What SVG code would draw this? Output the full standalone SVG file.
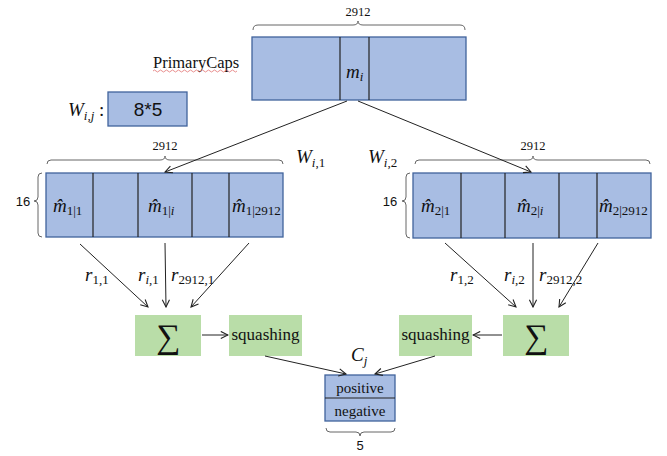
<svg xmlns="http://www.w3.org/2000/svg" width="667" height="456" viewBox="0 0 667 456">
<defs>
<style>
.blue{fill:#A8BDE3;stroke:#40639C;stroke-width:1.3}
.green{fill:#B9DDA8}
.div{stroke:#222;stroke-width:1.2}
.brace{fill:none;stroke:#666;stroke-width:1}
.con{stroke:#222;stroke-width:1;fill:none}
.serif{font-family:"Liberation Serif",serif;fill:#111}
.sans{font-family:"Liberation Sans",sans-serif;fill:#111}
.math{font-family:"Liberation Serif",serif;font-style:italic;fill:#111;font-size:19px}
.sub{font-style:normal;font-size:13px}
.subi{font-style:italic;font-size:13px}
</style>
<marker id="arr" viewBox="0 0 10 10" refX="9" refY="5" markerWidth="9" markerHeight="9" markerUnits="userSpaceOnUse" orient="auto">
<path d="M1,1 L9,5 L1,9" fill="none" stroke="#222" stroke-width="1.2"/>
</marker>
</defs>
<rect width="667" height="456" fill="#fff"/>

<g id="primarycaps">
<rect class="blue" x="252" y="37" width="214" height="63"/>
<line class="div" x1="340" y1="37" x2="340" y2="100"/>
<line class="div" x1="369" y1="37" x2="369" y2="100"/>
<text class="math" x="346" y="78">m<tspan class="subi" dy="3">i</tspan></text>
<path class="brace" d="M253,30 Q253,25 258,25 L353,25 Q358,25 358,21 Q358,25 363,25 L460,25 Q465,25 465,30"/>
<text class="serif" x="358" y="16" font-size="12.5" text-anchor="middle">2912</text>
<text class="serif" x="153" y="68" font-size="16.5">PrimaryCaps</text>
<path d="M153,71 q1.5,-2 3,0 t3,0 t3,0 t3,0 t3,0 t3,0 t3,0 t3,0 t3,0 t3,0 t3,0 t3,0 t3,0 t3,0 t3,0 t3,0 t3,0 t3,0 t3,0 t3,0 t3,0 t3,0 t3,0 t3,0 t3,0 t3,0 t3,0 t3,0" fill="none" stroke="#E06060" stroke-width="0.7"/>
</g>

<g id="weights">
<text class="math" x="68" y="116">W<tspan class="subi" dy="4">i,j</tspan><tspan dy="-4" style="font-style:normal"> :</tspan></text>
<rect class="blue" x="108" y="92" width="79" height="34"/>
<text class="sans" x="148" y="116" font-size="19" text-anchor="middle">8*5</text>
</g>

<g id="row1">
<rect class="blue" x="46" y="173" width="237" height="64"/>
<line class="div" x1="93" y1="173" x2="93" y2="237"/>
<line class="div" x1="138" y1="173" x2="138" y2="237"/>
<line class="div" x1="192" y1="173" x2="192" y2="237"/>
<line class="div" x1="229" y1="173" x2="229" y2="237"/>
<text class="math" x="53" y="212">m̂<tspan class="sub" dy="3">1|1</tspan></text>
<text class="math" x="148" y="212">m̂<tspan class="sub" dy="3">1|</tspan><tspan class="subi">i</tspan></text>
<text class="math" x="232" y="212">m̂<tspan class="sub" dy="3">1|2912</tspan></text>
<path class="brace" d="M47,164 Q47,160 51,160 L160,160 Q165,160 165,156 Q165,160 170,160 L279,160 Q283,160 283,164"/>
<text class="serif" x="165" y="150" font-size="12.5" text-anchor="middle">2912</text>
<path class="brace" d="M42,173 Q38,173 38,177 L38,197 Q38,201 34,201 Q38,201 38,205 L38,233 Q38,237 42,237"/>
<text class="sans" x="23" y="206" font-size="13" text-anchor="middle">16</text>
<text class="math" x="296" y="163">W<tspan class="subi" dy="4">i</tspan><tspan class="sub">,1</tspan></text>
</g>

<g id="row2">
<rect class="blue" x="413" y="173" width="238" height="65"/>
<line class="div" x1="461" y1="173" x2="461" y2="238"/>
<line class="div" x1="505" y1="173" x2="505" y2="238"/>
<line class="div" x1="559" y1="173" x2="559" y2="238"/>
<line class="div" x1="597" y1="173" x2="597" y2="238"/>
<text class="math" x="421" y="212">m̂<tspan class="sub" dy="3">2|1</tspan></text>
<text class="math" x="517" y="212">m̂<tspan class="sub" dy="3">2|</tspan><tspan class="subi">i</tspan></text>
<text class="math" x="599" y="212">m̂<tspan class="sub" dy="3">2|2912</tspan></text>
<path class="brace" d="M415,164 Q415,160 419,160 L528,160 Q533,160 533,156 Q533,160 538,160 L646,160 Q650,160 650,164"/>
<text class="serif" x="533" y="150" font-size="12.5" text-anchor="middle">2912</text>
<path class="brace" d="M410,173 Q406,173 406,177 L406,197 Q406,201 402,201 Q406,201 406,205 L406,234 Q406,238 410,238"/>
<text class="sans" x="390" y="206" font-size="13" text-anchor="middle">16</text>
<text class="math" x="368" y="163">W<tspan class="subi" dy="4">i</tspan><tspan class="sub">,2</tspan></text>
</g>

<g id="sum1">
<rect class="green" x="135" y="315" width="66" height="41"/>
<text class="serif" x="168" y="348" font-size="34" text-anchor="middle">∑</text>
</g>
<g id="squash1">
<rect class="green" x="229" y="315" width="73" height="41"/>
<text class="serif" x="265.5" y="340" font-size="17" text-anchor="middle">squashing</text>
</g>
<g id="sum2">
<rect class="green" x="503" y="315" width="66" height="41"/>
<text class="serif" x="536" y="348" font-size="34" text-anchor="middle">∑</text>
</g>
<g id="squash2">
<rect class="green" x="399" y="315" width="73" height="41"/>
<text class="serif" x="435.5" y="340" font-size="17" text-anchor="middle">squashing</text>
</g>

<g id="cj">
<text class="math" x="351" y="361">C<tspan class="subi" dy="4">j</tspan></text>
<rect class="blue" x="325" y="375" width="70" height="46"/>
<line class="div" x1="325" y1="398" x2="395" y2="398"/>
<text class="serif" x="360" y="393" font-size="15" text-anchor="middle">positive</text>
<text class="serif" x="360" y="416" font-size="15" text-anchor="middle">negative</text>
<path class="brace" d="M326,428 Q326,432 330,432 L356,432 Q360,432 360,436 Q360,432 364,432 L391,432 Q395,432 395,428"/>
<text class="sans" x="360" y="450" font-size="13" text-anchor="middle">5</text>
</g>

<g id="labels">
<text class="math" x="85" y="281">r<tspan class="sub" dy="3">1,1</tspan></text>
<text class="math" x="138" y="281">r<tspan class="subi" dy="3">i</tspan><tspan class="sub">,1</tspan></text>
<text class="math" x="171" y="281">r<tspan class="sub" dy="3">2912,1</tspan></text>
<text class="math" x="450" y="281">r<tspan class="sub" dy="3">1,2</tspan></text>
<text class="math" x="504" y="281">r<tspan class="subi" dy="3">i</tspan><tspan class="sub">,2</tspan></text>
<text class="math" x="539" y="281">r<tspan class="sub" dy="3">2912,2</tspan></text>
</g>

<g id="connectors">
<line class="con" x1="347" y1="101" x2="165" y2="172" marker-end="url(#arr)"/>
<line class="con" x1="358" y1="101" x2="531" y2="172" marker-end="url(#arr)"/>
<line class="con" x1="80" y1="244" x2="148" y2="307" marker-end="url(#arr)"/>
<line class="con" x1="165" y1="243" x2="166" y2="307" marker-end="url(#arr)"/>
<line class="con" x1="249" y1="243" x2="191" y2="307" marker-end="url(#arr)"/>
<line class="con" x1="445" y1="243" x2="516" y2="307" marker-end="url(#arr)"/>
<line class="con" x1="533" y1="243" x2="533" y2="307" marker-end="url(#arr)"/>
<line class="con" x1="598" y1="243" x2="559" y2="307" marker-end="url(#arr)"/>
<line class="con" x1="202" y1="335" x2="228" y2="335" marker-end="url(#arr)"/>
<line class="con" x1="502" y1="335" x2="473" y2="335" marker-end="url(#arr)"/>
<line class="con" x1="265" y1="356" x2="346" y2="374" marker-end="url(#arr)"/>
<line class="con" x1="435" y1="356" x2="375" y2="374" marker-end="url(#arr)"/>
</g>
</svg>
